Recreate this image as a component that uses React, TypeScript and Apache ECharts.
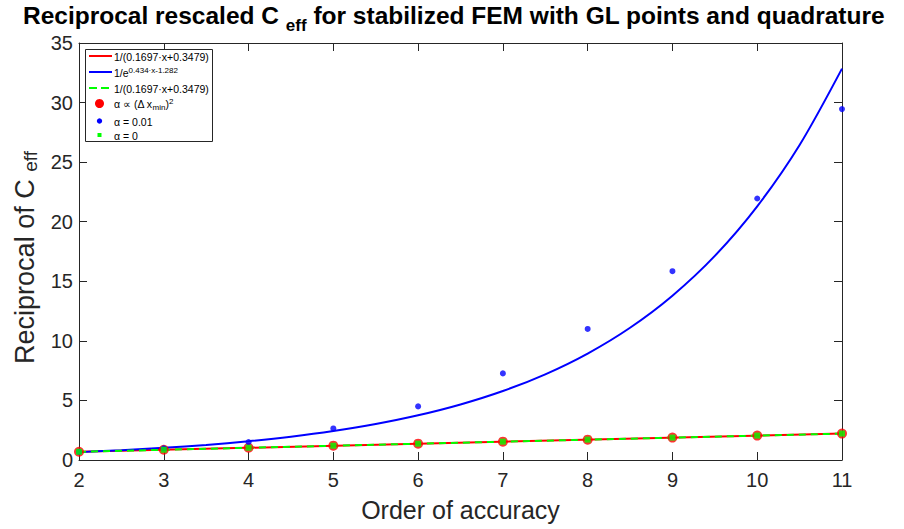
import React, { useEffect, useRef } from 'react';
import * as echarts from 'echarts';

// x categories (order of accuracy)
const orders = [2, 3, 4, 5, 6, 7, 8, 9, 10, 11];
// measured points
const ptsQuadAlpha = [0.69, 0.86, 1.03, 1.2, 1.37, 1.54, 1.71, 1.88, 2.05, 2.22];
const ptsAlpha001 = [0.68, 0.98, 1.5, 2.65, 4.5, 7.27, 11.0, 15.85, 21.95, 29.45];
const ptsAlpha0 = [0.69, 0.86, 1.03, 1.2, 1.37, 1.54, 1.71, 1.88, 2.05, 2.22];
// fitted curves
const fitLinX = [2, 11];
const fitLinY = [0.687, 2.215];
const fitExpX = [2, 2.5, 3, 3.5, 4, 4.5, 5, 5.5, 6, 6.5, 7, 7.5, 8, 8.5, 9, 9.5, 10, 10.5, 11];
const fitExpY = [0.661, 0.821, 1.02, 1.267, 1.575, 1.956, 2.43, 3.019, 3.751, 4.66, 5.789, 7.193, 8.935, 11.1, 13.79, 17.13, 21.29, 26.44, 32.85];
const yTicks = { min: 0, max: 35, interval: 5 };
const xTicks = { min: 2, max: 11, interval: 1 };

const FONT = '"Liberation Sans", Arial, Helvetica, sans-serif';
const AX = '#262626';

export default function App() {
  const ref = useRef<HTMLDivElement>(null);
  useEffect(() => {
    if (!ref.current) return;
    const chart = echarts.init(ref.current, null, { renderer: 'svg' });
    const zip = (xs: number[], ys: number[]) => xs.map((x, i) => [x, ys[i]]);
    const legText = (y: number, text: string) => ({
      type: 'text',
      style: {
        x: 114, y, text, fill: '#000', textVerticalAlign: 'middle',
        fontFamily: FONT, fontSize: 10.5, lineHeight: 14,
        rich: {
          sup: { fontSize: 8, lineHeight: 4, verticalAlign: 'top', fontFamily: FONT },
          sub: { fontSize: 8, lineHeight: 4, verticalAlign: 'bottom', fontFamily: FONT },
        },
      },
      z: 101,
    });
    chart.setOption({
      animation: false,
      backgroundColor: '#fff',
      title: {
        text: 'Reciprocal rescaled C {sub|eff} for stabilized FEM with GL points and quadrature',
        left: 23,
        top: -4,
        padding: 0,
        textStyle: {
          fontFamily: FONT, fontSize: 24.5, fontWeight: 'bold', color: '#000', lineHeight: 38,
          rich: {
            sub: { fontFamily: FONT, fontSize: 17, fontWeight: 'bold', color: '#000', lineHeight: 4, verticalAlign: 'bottom' },
          },
        },
      },
      grid: { left: 79, right: 62, top: 43, bottom: 69, containLabel: false },
      xAxis: [
        {
          type: 'value', position: 'bottom', ...xTicks,
          name: 'Order of accuracy', nameLocation: 'middle', nameGap: 37,
          nameTextStyle: { fontFamily: FONT, fontSize: 25, color: AX },
          axisLine: { show: true, lineStyle: { color: AX, width: 1 } },
          axisTick: { show: true, inside: true, length: 8, lineStyle: { color: AX } },
          axisLabel: { fontFamily: FONT, fontSize: 20, color: AX, margin: 10 },
          splitLine: { show: false },
        },
        {
          type: 'value', position: 'top', ...xTicks,
          axisLine: { show: true, onZero: false, lineStyle: { color: AX, width: 1 } },
          axisTick: { show: true, inside: true, length: 8, lineStyle: { color: AX } },
          axisLabel: { show: false },
          splitLine: { show: false },
        },
      ],
      yAxis: [
        {
          type: 'value', position: 'left', ...yTicks,
          name: 'Reciprocal of C {sub|eff}', nameLocation: 'middle', nameGap: 33,
          nameTextStyle: {
            fontFamily: FONT, fontSize: 27, color: AX, lineHeight: 30, padding: [0, 12, 0, 0],
            rich: { sub: { fontFamily: FONT, fontSize: 19, color: AX, lineHeight: 16, verticalAlign: 'bottom' } },
          },
          axisLine: { show: true, lineStyle: { color: AX, width: 1 } },
          axisTick: { show: true, inside: true, length: 8, lineStyle: { color: AX } },
          axisLabel: { fontFamily: FONT, fontSize: 20, color: AX, margin: 6 },
          splitLine: { show: false },
        },
        {
          type: 'value', position: 'right', ...yTicks,
          axisLine: { show: true, onZero: false, lineStyle: { color: AX, width: 1 } },
          axisTick: { show: true, inside: true, length: 8, lineStyle: { color: AX } },
          axisLabel: { show: false },
          splitLine: { show: false },
        },
      ],
      series: [
        {
          name: 'fitRed', type: 'line', data: zip(fitLinX, fitLinY), showSymbol: false, symbol: 'none',
          lineStyle: { color: '#ff0000', width: 2 }, z: 2,
        },
        {
          name: 'fitBlue', type: 'line', data: zip(fitExpX, fitExpY), showSymbol: false, symbol: 'none', smooth: 0.3,
          lineStyle: { color: '#0000ff', width: 2 }, z: 3,
        },
        {
          name: 'fitGreen', type: 'line', data: zip(fitLinX, fitLinY), showSymbol: false, symbol: 'none',
          lineStyle: { color: '#00ff00', width: 2, type: [7, 5] }, z: 4,
        },
        {
          name: 'alphaDx', type: 'scatter', data: zip(orders, ptsQuadAlpha), symbol: 'circle', symbolSize: 10,
          itemStyle: { color: '#ff0000' }, z: 5,
        },
        {
          name: 'alpha001', type: 'scatter', data: zip(orders, ptsAlpha001), symbol: 'circle', symbolSize: 6,
          itemStyle: { color: '#0000ff' }, z: 6,
        },
        {
          name: 'alpha0', type: 'scatter', data: zip(orders, ptsAlpha0), symbol: 'rect', symbolSize: 6,
          itemStyle: { color: '#00ff00' }, z: 7,
        },
      ],
      graphic: [
        { type: 'rect', shape: { x: 85.5, y: 49.5, width: 127, height: 92 }, style: { fill: '#fff', stroke: AX, lineWidth: 1 }, z: 100 },
        { type: 'line', shape: { x1: 89, y1: 56, x2: 112, y2: 56 }, style: { stroke: '#ff0000', lineWidth: 2 }, z: 101 },
        legText(56.5, '1/(0.1697·x+0.3479)'),
        { type: 'line', shape: { x1: 89, y1: 72, x2: 112, y2: 72 }, style: { stroke: '#0000ff', lineWidth: 2 }, z: 101 },
        legText(73, '1/e{sup|0.434·x-1.282}'),
        { type: 'line', shape: { x1: 89, y1: 88, x2: 112, y2: 88 }, style: { stroke: '#00ff00', lineWidth: 2, lineDash: [8, 4] }, z: 101 },
        legText(88.5, '1/(0.1697·x+0.3479)'),
        { type: 'circle', shape: { cx: 99.5, cy: 103.5, r: 4.5 }, style: { fill: '#ff0000' }, z: 101 },
        legText(104, 'α ∝ (Δ x{sub|min}){sup|2}'),
        { type: 'circle', shape: { cx: 99.5, cy: 121, r: 2.7 }, style: { fill: '#0000ff' }, z: 101 },
        legText(121.5, 'α = 0.01'),
        { type: 'rect', shape: { x: 97.5, y: 133, width: 4, height: 4 }, style: { fill: '#00ff00' }, z: 101 },
        legText(135.5, 'α = 0'),
      ],
    });
    return () => chart.dispose();
  }, []);
  return <div ref={ref} style={{ width: 904, height: 529, position: 'absolute', left: 0, top: 0 }} />;
}
